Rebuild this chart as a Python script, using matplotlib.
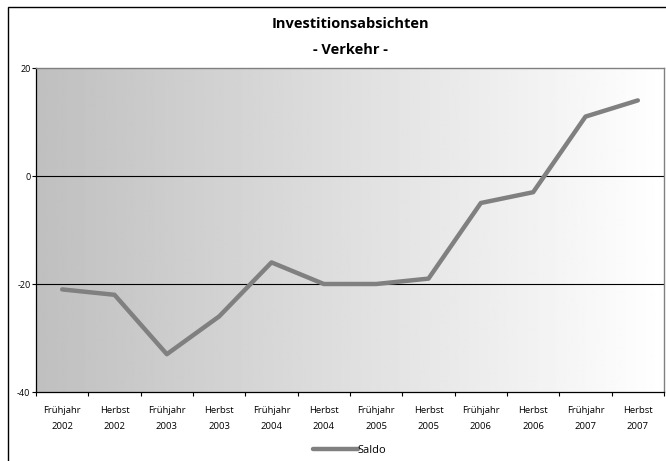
import numpy as np
import matplotlib
matplotlib.use("Agg")
from matplotlib import pyplot as plt
from matplotlib.patches import Rectangle

plt.rcParams['font.family'] = ['Open Sans', 'DejaVu Sans']

categories = ["Frühjahr\n2002", "Herbst\n2002", "Frühjahr\n2003", "Herbst\n2003",
              "Frühjahr\n2004", "Herbst\n2004", "Frühjahr\n2005", "Herbst\n2005",
              "Frühjahr\n2006", "Herbst\n2006", "Frühjahr\n2007", "Herbst\n2007"]
saldo = [-21, -22, -33, -26, -16, -20, -20, -19, -5, -3, 11, 14]
y_ticks = [-40, -20, 0, 20]


def main():
    fig = plt.figure(figsize=(6.66, 4.61), dpi=100)
    ax = fig.add_axes([36 / 666, 69 / 461, 628 / 666, 324 / 461])

    n = len(categories)
    x = np.arange(n)

    # horizontal grey-to-white background
    grad = np.linspace(0.75, 1.0, 256).reshape(1, -1)
    ax.imshow(grad, cmap='gray', vmin=0, vmax=1, aspect='auto',
              extent=(-0.5, n - 0.5, -40, 20), zorder=0, interpolation='bilinear')

    for y in [0, -20]:
        ax.axhline(y, color='black', lw=0.8, zorder=1)

    ax.plot(x, saldo, color='#808080', lw=3.2, solid_capstyle='round',
            solid_joinstyle='round', zorder=3, label='Saldo')

    ax.set_xlim(-0.5, n - 0.5)
    ax.set_ylim(-40, 20)
    ax.set_yticks(y_ticks)
    ax.set_yticklabels([str(v) for v in y_ticks], fontsize=6.5)
    ax.set_xticks(np.arange(n + 1) - 0.5)
    ax.set_xticklabels([])
    ax.set_xticks(x, minor=True)
    ax.set_xticklabels(categories, minor=True, fontsize=6.8, linespacing=2.0)
    ax.tick_params(axis='x', which='minor', length=0, pad=10)
    ax.tick_params(axis='x', which='major', length=3, direction='out', width=0.8)
    ax.tick_params(axis='y', length=3, direction='out', width=0.8, pad=1)

    for side in ['top', 'right']:
        ax.spines[side].set_color('#808080')
        ax.spines[side].set_linewidth(1.0)
    for side in ['left', 'bottom']:
        ax.spines[side].set_color('black')
        ax.spines[side].set_linewidth(0.9)

    fig.text(350 / 666, 1 - 24 / 461, "Investitionsabsichten", ha='center', va='center',
             fontsize=10.5, fontweight='bold')
    fig.text(350 / 666, 1 - 50 / 461, "- Verkehr -", ha='center', va='center',
             fontsize=10.5, fontweight='bold')

    fig.legend(loc='center', bbox_to_anchor=(350 / 666, 1 - 450 / 461), frameon=False,
               fontsize=8, handlelength=4.0, handletextpad=0.0)

    # outer chart border (runs off the right and bottom edges)
    fig.patches.append(Rectangle((8 / 666, -0.05), 1.0, 1.05 - 7 / 461,
                                 transform=fig.transFigure, fill=False,
                                 edgecolor='black', lw=1.0))

    fig.savefig("out.png", dpi=100)


if __name__ == "__main__":
    main()
